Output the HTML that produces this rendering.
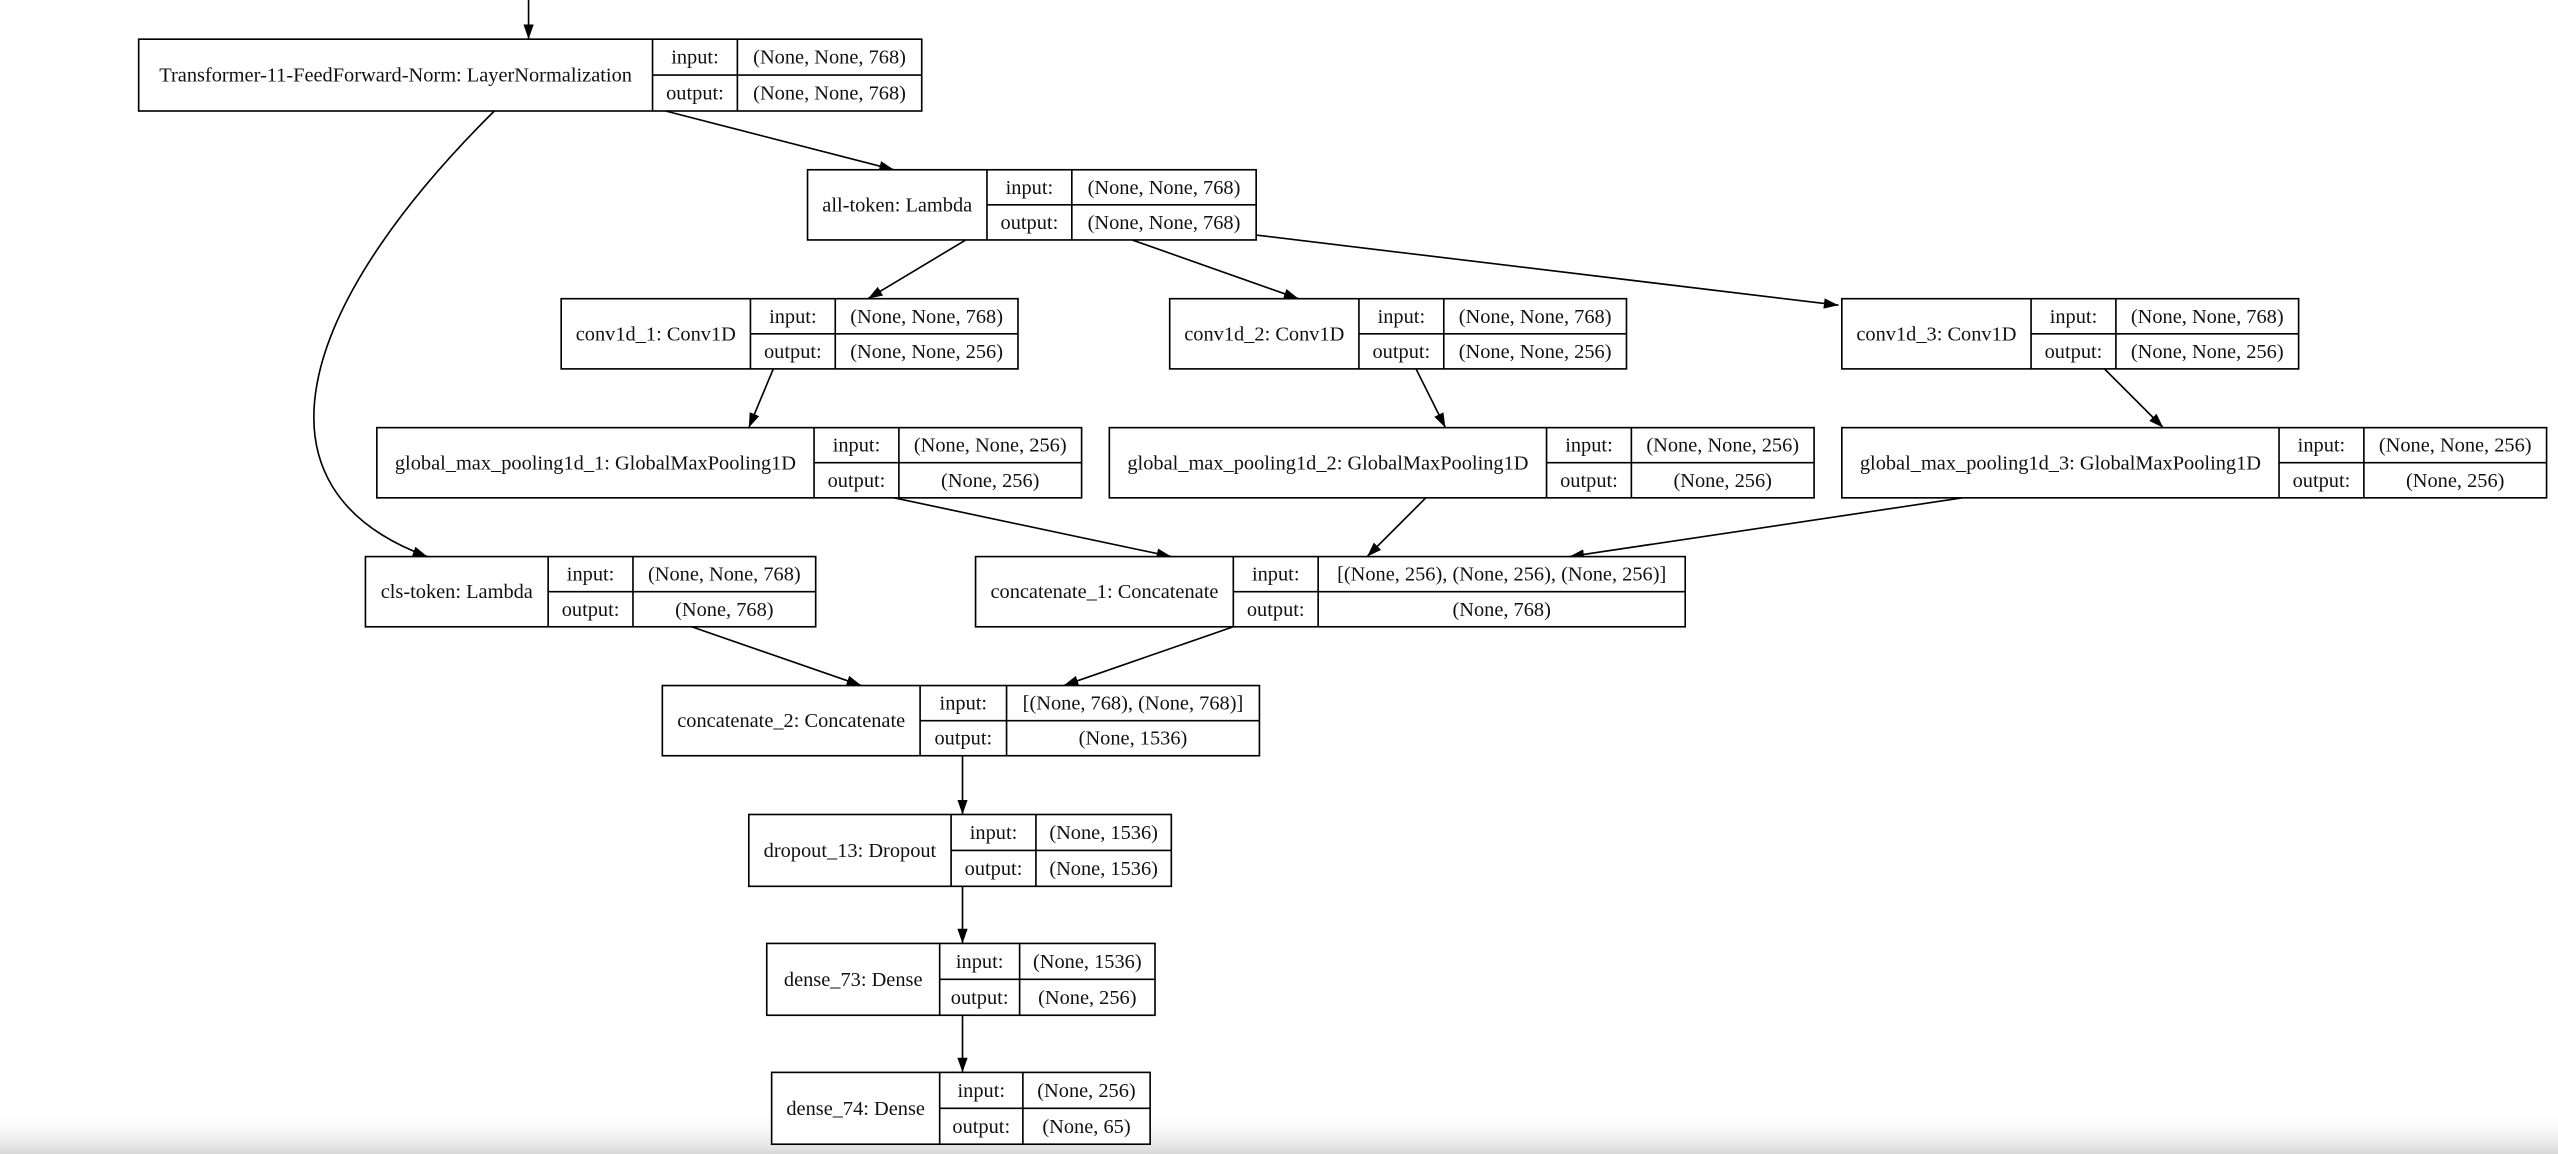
<!DOCTYPE html>
<html><head><meta charset="utf-8"><style>
html,body{margin:0;padding:0;background:#fff;width:2558px;height:1154px;overflow:hidden}
svg{display:block}
text{font-family:"Liberation Serif",serif;font-size:12.5px;fill:#111}
</style></head><body>
<svg width="2558" height="1154" viewBox="0 0 1568 707" preserveAspectRatio="none">
<defs>
<marker id="a" viewBox="0 0 10 10" refX="10" refY="5" markerWidth="9" markerHeight="9" markerUnits="userSpaceOnUse" orient="auto"><path d="M0,1.5 L10,5 L0,8.5 z" fill="#000"/></marker>
<linearGradient id="g" x1="0" y1="0" x2="0" y2="1"><stop offset="0" stop-color="#fff" stop-opacity="0"/><stop offset="1" stop-color="#d8d8d8"/></linearGradient>
</defs>
<rect x="0" y="680" width="1568" height="27" fill="url(#g)"/>
<g stroke="#000" stroke-width="1" fill="none" marker-end="url(#a)">
<path d="M324,0 L324,24"/>
<path d="M408,68 L548,104"/>
<path d="M303,68 C180,190 150,300 262,341"/>
<path d="M592,147 L532,183"/>
<path d="M694,147 L796,183"/>
<path d="M770,144 L1127,187"/>
<path d="M474,226 L459,262"/>
<path d="M868,226 L886,262"/>
<path d="M1290,226 L1326,262"/>
<path d="M548,305 L718,341"/>
<path d="M874,305 L838,341"/>
<path d="M1203,305 L962,341"/>
<path d="M424,384 L528,420"/>
<path d="M756,384 L652,420"/>
<path d="M590,463 L590,499"/>
<path d="M590,543 L590,578"/>
<path d="M590,622 L590,657"/>
</g>
<g id="nodes"></g>
</svg>
<script>
var N=[
["Transformer-11-FeedForward-Norm: LayerNormalization","(None, None, 768)","(None, None, 768)",85,565,24,68,400,452],
["all-token: Lambda","(None, None, 768)","(None, None, 768)",495,770,104,147,605,657],
["conv1d_1: Conv1D","(None, None, 768)","(None, None, 256)",344,624,183,226,460,512],
["conv1d_2: Conv1D","(None, None, 768)","(None, None, 256)",717,997,183,226,833,885],
["conv1d_3: Conv1D","(None, None, 768)","(None, None, 256)",1129,1409,183,226,1245,1297],
["global_max_pooling1d_1: GlobalMaxPooling1D","(None, None, 256)","(None, 256)",231,663,262,305,499,551],
["global_max_pooling1d_2: GlobalMaxPooling1D","(None, None, 256)","(None, 256)",680,1112,262,305,948,1000],
["global_max_pooling1d_3: GlobalMaxPooling1D","(None, None, 256)","(None, 256)",1129,1561,262,305,1397,1449],
["cls-token: Lambda","(None, None, 768)","(None, 768)",224,500,341,384,336,388],
["concatenate_1: Concatenate","[(None, 256), (None, 256), (None, 256)]","(None, 768)",598,1033,341,384,756,808],
["concatenate_2: Concatenate","[(None, 768), (None, 768)]","(None, 1536)",406,772,420,463,564,617],
["dropout_13: Dropout","(None, 1536)","(None, 1536)",459,718,499,543,583,635],
["dense_73: Dense","(None, 1536)","(None, 256)",470,708,578,622,576,625],
["dense_74: Dense","(None, 256)","(None, 65)",473,705,657,701,576,627]];
var ns="http://www.w3.org/2000/svg",G=document.getElementById("nodes"),s="";
N.forEach(function(n){var x1=n[3],x2=n[4],y1=n[5],y2=n[6],d1=n[7],d2=n[8],m=(y1+y2)/2;
s+='<rect x="'+x1+'" y="'+y1+'" width="'+(x2-x1)+'" height="'+(y2-y1)+'" fill="#fff" stroke="#000" stroke-width="1"/>';
s+='<path d="M'+d1+','+y1+'V'+y2+'M'+d2+','+y1+'V'+y2+'M'+d1+','+m+'H'+x2+'" stroke="#000" stroke-width="1"/>';
s+='<text x="'+(x1+d1)/2+'" y="'+(m+4)+'" text-anchor="middle">'+n[0]+'</text>';
s+='<text x="'+(d1+d2)/2+'" y="'+((y1+m)/2+4)+'" text-anchor="middle">input:</text>';
s+='<text x="'+(d1+d2)/2+'" y="'+((m+y2)/2+4)+'" text-anchor="middle">output:</text>';
s+='<text x="'+(d2+x2)/2+'" y="'+((y1+m)/2+4)+'" text-anchor="middle">'+n[1]+'</text>';
s+='<text x="'+(d2+x2)/2+'" y="'+((m+y2)/2+4)+'" text-anchor="middle">'+n[2]+'</text>';});
G.innerHTML=s;
</script>
</body></html>
